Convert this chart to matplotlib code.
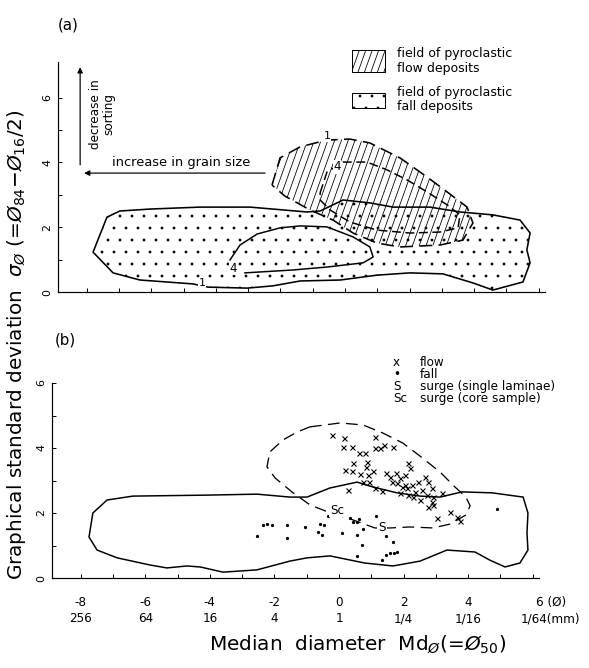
import numpy as np
import matplotlib.pyplot as plt
from matplotlib.patches import Polygon, Rectangle
from matplotlib.transforms import ScaledTranslation

plt.rcParams['font.family'] = ['DejaVu Sans']
plt.rcParams['mathtext.fontset'] = 'dejavusans'
plt.rcParams['hatch.linewidth'] = 0.3

# ---- panel (a): fields (Md_phi, sigma_phi) ----
# pyroclastic fall deposits, outer (1) contour
fall_a_md = [-7.80, -7.37, -6.97, -6.04, -4.49, -2.94, -1.18, -0.77, -0.06, 0.77, 1.49,
             2.63, 3.56, 4.58, 5.42, 5.73, 5.63, 5.73, 5.51, 4.58, 3.96, 3.03, 2.01,
             0.99, -0.15, -1.39, -2.23, -3.03, -4.24, -4.71, -6.35, -7.18]
fall_a_sd = [1.23, 2.31, 2.50, 2.56, 2.62, 2.62, 2.47, 2.50, 2.84, 2.75, 2.62,
             2.62, 2.47, 2.38, 2.22, 1.82, 1.30, 0.90, 0.31, 0.06, 0.28, 0.56, 0.59,
             0.52, 0.37, 0.34, 0.19, 0.12, 0.15, 0.25, 0.37, 0.59]
# pyroclastic fall deposits, inner (4) contour
fall4_a_md = [-3.56, -3.25, -2.72, -2.01, -1.39, -0.56, 0.25, 0.77, 0.87, 0.56, -0.56, -1.61, -3.10]
fall4_a_sd = [0.99, 1.45, 1.79, 1.98, 2.04, 2.01, 1.70, 1.39, 1.08, 0.90, 0.77, 0.68, 0.59]
# pyroclastic flow deposits, outer (1) contour
flow_a_md = [-2.26, -2.01, -1.39, -0.56, 0.15, 0.77, 1.70, 2.54, 3.16, 3.78, 3.96, 3.65,
             2.94, 1.70, 0.99, 0.25, -0.37, -1.08, -1.86]
flow_a_sd = [3.30, 4.14, 4.48, 4.69, 4.72, 4.60, 4.14, 3.55, 3.09, 2.62, 2.13, 1.60,
             1.45, 1.39, 1.51, 1.82, 2.22, 2.53, 2.96]
# pyroclastic flow deposits, inner (4) contour
flow4_a_md = [-0.77, -0.56, -0.06, 0.68, 1.30, 1.92, 2.54, 3.16, 3.56, 3.50, 2.94, 2.01,
              0.99, 0.15, -0.46, -0.77]
flow4_a_sd = [3.06, 3.70, 4.01, 4.01, 3.77, 3.46, 3.09, 2.69, 2.38, 1.98, 1.85, 1.82,
              1.91, 2.16, 2.53, 2.84]

# ---- panel (b): fields and samples ----
fall_b_md = [-7.74, -7.62, -7.18, -6.38, -4.09, -2.54, -1.52, -0.99, -0.28, 0.56, 1.05,
             1.80, 2.51, 3.13, 3.81, 4.74, 5.70, 5.85, 5.82, 5.85, 5.60, 5.14, 4.67,
             4.21, 3.34, 2.51, 1.67, 0.80, -0.28, -0.99, -1.52, -2.54, -3.59, -4.30,
             -4.71, -5.33, -5.85, -6.87, -7.49]
fall_b_sd = [1.26, 2.00, 2.40, 2.52, 2.55, 2.58, 2.49, 2.49, 2.77, 2.95, 2.80,
             2.62, 2.52, 2.49, 2.65, 2.62, 2.49, 2.00, 1.38, 0.86, 0.46, 0.34, 0.55,
             0.80, 0.86, 0.52, 0.37, 0.46, 0.68, 0.62, 0.52, 0.25, 0.18, 0.34,
             0.37, 0.31, 0.40, 0.62, 0.86]
flow_b_md = [-0.90, 0.03, 0.74, 1.36, 1.98, 2.51, 3.13, 3.59, 3.93, 4.06, 3.93, 3.44,
             2.91, 2.20, 1.58, 1.11, 0.34, -0.34, -0.90, -1.46, -1.98, -2.23, -2.14,
             -1.73, -1.30]
flow_b_sd = [4.65, 4.77, 4.71, 4.46, 4.15, 3.75, 3.26, 2.80, 2.49, 2.22, 1.94, 1.66,
             1.54, 1.57, 1.54, 1.54, 1.82, 2.03, 2.25, 2.65, 3.08, 3.42, 3.88,
             4.25, 4.49]
# flow samples (x)
flow_pts_md = [-0.22, 0.15, 0.12, 0.40, 1.11, 1.11, 1.27, 1.39, 1.67, 0.62, 0.80, 0.43,
               0.87, 0.19, 0.40, 0.84, 1.05, 0.65, 0.90, 0.74, 0.93, 0.28, 1.11, 1.33,
               1.46, 1.58, 1.76, 1.89, 2.04, 1.64, 1.80, 2.14, 2.20, 1.95, 2.11, 2.26,
               1.89, 2.14, 2.35, 2.45, 2.57, 2.29, 2.51, 2.66, 2.76, 2.88, 2.72, 2.91,
               2.88, 2.76, 2.91, 3.19, 3.03, 3.44, 3.65, 3.75, 2.04]
flow_pts_sd = [4.40, 4.31, 4.03, 4.03, 4.34, 4.00, 4.00, 4.09, 4.03, 3.85, 3.85, 3.54,
               3.57, 3.32, 3.29, 3.42, 3.29, 3.20, 3.17, 2.95, 2.95, 2.71, 2.77, 2.68,
               3.23, 3.11, 3.23, 3.08, 3.17, 2.95, 2.92, 3.54, 3.38, 2.80, 2.77, 2.86,
               2.62, 2.55, 2.65, 2.95, 2.71, 2.49, 2.40, 3.11, 2.95, 2.77, 2.55, 2.49,
               2.34, 2.18, 2.25, 2.62, 1.85, 2.03, 1.88, 1.75, 2.86]
# fall samples (dots)
fall_pts_md = [-2.54, -2.35, -2.23, -2.07, -1.61, -1.61, -1.05, -0.59, -0.65, -0.53,
               -0.46, -0.34, 0.09, 0.34, 0.43, 0.56, 0.62, 1.15, 0.74, 0.56, 1.46, 0.71,
               0.56, 1.67, 1.33, 1.46, 1.58, 1.70, 1.80, 4.89]
fall_pts_sd = [1.29, 1.63, 1.66, 1.63, 1.63, 1.23, 1.57, 1.66, 1.42, 1.32,
               1.63, 1.91, 1.38, 1.85, 1.72, 1.72, 1.82, 1.91, 1.51, 1.32, 1.29, 1.02,
               0.68, 1.11, 0.55, 0.71, 0.77, 0.77, 0.80, 2.12]
# surge samples
surge_labels = ['Sc', 'S']
surge_md = [-0.06, 1.33]
surge_sd = [2.09, 1.54]

xtick_phi = [-8, -6, -4, -2, 0, 2, 4, 6]
xtick_phi_lab = ['-8', '-6', '-4', '-2', '0', '2', '4', '6 (Ø)']
xtick_mm_lab = ['256', '64', '16', '4', '1', '1/4', '1/16', '1/64(mm)']

W, H = 589, 668
fig = plt.figure(figsize=(W / 72, H / 72), dpi=72)
xr = (-8.9, 6.2)
ax_a = fig.add_axes([(345 - 8.9 * 32.3) / W, (H - 292) / H, 15.1 * 32.3 / W, 8.9 * 32.4 / H])
ax_b = fig.add_axes([(339 - 8.9 * 32.3) / W, (H - 578) / H, 15.1 * 32.3 / W, 6 * 32.5 / H])


def steep_hatch(ax, patch, x0, x1, step=0.21, rise=2.8, y0=-1, y1=9):
    for c in np.arange(x0, x1, step):
        ln, = ax.plot([c, c + (y1 - y0) / rise], [y0, y1], color='k', lw=0.8, zorder=2)
        ln.set_clip_path(patch)


for ax in (ax_a, ax_b):
    ax.set_xlim(*xr)
    for s in ('top', 'right'):
        ax.spines[s].set_visible(False)
    ax.spines['left'].set_linewidth(1.2)
    ax.spines['bottom'].set_linewidth(1.2)
    ax.set_xticks(xtick_phi)
    ax.set_xticks(range(-7, 7, 2), minor=True)
    ax.tick_params(which='both', direction='in', length=4, width=1)
    ax.tick_params(axis='y', labelsize=11, labelrotation=90, pad=5)

# ---------- panel (a) ----------
ax_a.set_ylim(0, 8.9)
ax_a.spines['left'].set_bounds(0, 7.1)
ax_a.set_yticks([0, 2, 4, 6])
ax_a.set_yticks([1, 3, 5], minor=True)
ax_a.set_xticklabels([])
for lab in ax_a.get_yticklabels():
    lab.set_va('center')

fall_a = Polygon(np.column_stack([fall_a_md, fall_a_sd]), closed=True, fill=False,
                 hatch='.', edgecolor='k', lw=1.6, zorder=1)
ax_a.add_patch(fall_a)
flow_a = Polygon(np.column_stack([flow_a_md, flow_a_sd]), closed=True, fill=False,
                 edgecolor='k', lw=1.6, ls=(0, (8, 4)), zorder=3)
ax_a.add_patch(flow_a)
steep_hatch(ax_a, flow_a, -5.5, 4.5)
ax_a.plot(fall4_a_md, fall4_a_sd, color='k', lw=1.5, zorder=3)
ax_a.plot(flow4_a_md + flow4_a_md[:1], flow4_a_sd + flow4_a_sd[:1], color='k', lw=1.5,
          ls=(0, (6, 3)), zorder=3)
ax_a.text(-4.43, 0.28, '1', fontsize=11, ha='center', va='center', zorder=4,
          bbox=dict(fc='white', ec='none', pad=0.5))
ax_a.text(-3.47, 0.74, '4', fontsize=12, ha='center', va='center', zorder=4,
          bbox=dict(fc='white', ec='none', pad=0.5))
ax_a.text(-0.56, 4.80, '1', fontsize=11, ha='center', va='center', zorder=4,
          bbox=dict(fc='white', ec='none', pad=0.5))
ax_a.text(-0.25, 3.86, '4', fontsize=12, ha='center', va='center', zorder=4,
          bbox=dict(fc='white', ec='none', pad=0.5))

# arrows
ax_a.annotate('', xy=(-8.14, 3.67), xytext=(-2.41, 3.67),
              arrowprops=dict(arrowstyle='-|>', color='k', lw=1.2, mutation_scale=11))
ax_a.annotate('', xy=(-8.2, 7.0), xytext=(-8.2, 3.86),
              arrowprops=dict(arrowstyle='-|>', color='k', lw=1.2, mutation_scale=11))
ax_a.text(-5.08, 4.0, 'increase in grain size', fontsize=13, ha='center', va='center')
ax_a.text(-7.52, 5.5, 'decrease in\nsorting', fontsize=12, ha='center', va='center',
          rotation=90, linespacing=1.05)

# legend
box1 = Rectangle((0.22, 6.79), 1.02, 0.68, fill=False, edgecolor='k', lw=1)
ax_a.add_patch(box1)
steep_hatch(ax_a, box1, -1.5, 1.5, step=0.2, y0=6.5, y1=7.6)
box2 = Rectangle((0.22, 5.68), 1.02, 0.46, fill=False, edgecolor='k', lw=1, hatch='.')
ax_a.add_patch(box2)
ax_a.text(1.61, 7.13, 'field of pyroclastic\nflow deposits', fontsize=12.5, va='center',
          linespacing=1.15)
ax_a.text(1.61, 5.94, 'field of pyroclastic\nfall deposits', fontsize=12.5, va='center',
          linespacing=1.15)

# ---------- panel (b) ----------
ax_b.set_ylim(0, 6)
ax_b.set_yticks([0, 2, 4, 6])
ax_b.set_yticks([1, 3, 5], minor=True)
for lab in ax_b.get_yticklabels():
    lab.set_va('center')
ax_b.set_xticklabels([a + '\n' + b for a, b in zip(xtick_phi_lab, xtick_mm_lab)],
                     fontsize=12, linespacing=1.3)
ax_b.tick_params(axis='x', pad=18)
last = ax_b.get_xticklabels()[-1]
last.set_transform(last.get_transform() + ScaledTranslation(18 / 72, 0, fig.dpi_scale_trans))

ax_b.add_patch(Polygon(np.column_stack([fall_b_md, fall_b_sd]), closed=True, fill=False,
                       edgecolor='k', lw=1.5, zorder=2))
ax_b.add_patch(Polygon(np.column_stack([flow_b_md, flow_b_sd]), closed=True, fill=False,
                       edgecolor='k', lw=1.3, ls=(0, (9, 5)), zorder=2))
ax_b.plot(flow_pts_md, flow_pts_sd, ls='none', marker='x', ms=5, mew=1.1, color='k', zorder=3)
ax_b.plot(fall_pts_md, fall_pts_sd, ls='none', marker='o', ms=2.2, color='k', zorder=3)
for lab, x, y in zip(surge_labels, surge_md, surge_sd):
    ax_b.text(x, y, lab, fontsize=12, ha='center', va='center', zorder=4,
              bbox=dict(fc='white', ec='none', pad=0.8))

leg_sym = ['x', '•', 'S', 'Sc']
leg_txt = ['flow', 'fall', 'surge (single laminae)', 'surge (core sample)']
for i, (sy, tx) in enumerate(zip(leg_sym, leg_txt)):
    yy = 6.62 - 0.37 * i
    ax_b.text(1.67, yy, sy, fontsize=12, va='center')
    ax_b.text(2.51, yy, tx, fontsize=12, va='center')

# panel tags and axis titles
fig.text(68 / W, 1 - 25 / H, '(a)', fontsize=15, ha='center', va='center')
fig.text(65 / W, 1 - 340 / H, '(b)', fontsize=15, ha='center', va='center')
fig.text(17 / W, 1 - 345 / H,
         r'Graphical standard deviation  $\sigma_{\O}$ (=$\O_{84}$$-$$\O_{16}$/2)',
         fontsize=20, rotation=90, ha='center', va='center')
fig.text(358 / W, 1 - 645 / H, r'Median  diameter  Md$_{\O}$(=$\O_{50}$)',
         fontsize=20, ha='center', va='center')

fig.savefig('out.png', dpi=72, facecolor='white')
